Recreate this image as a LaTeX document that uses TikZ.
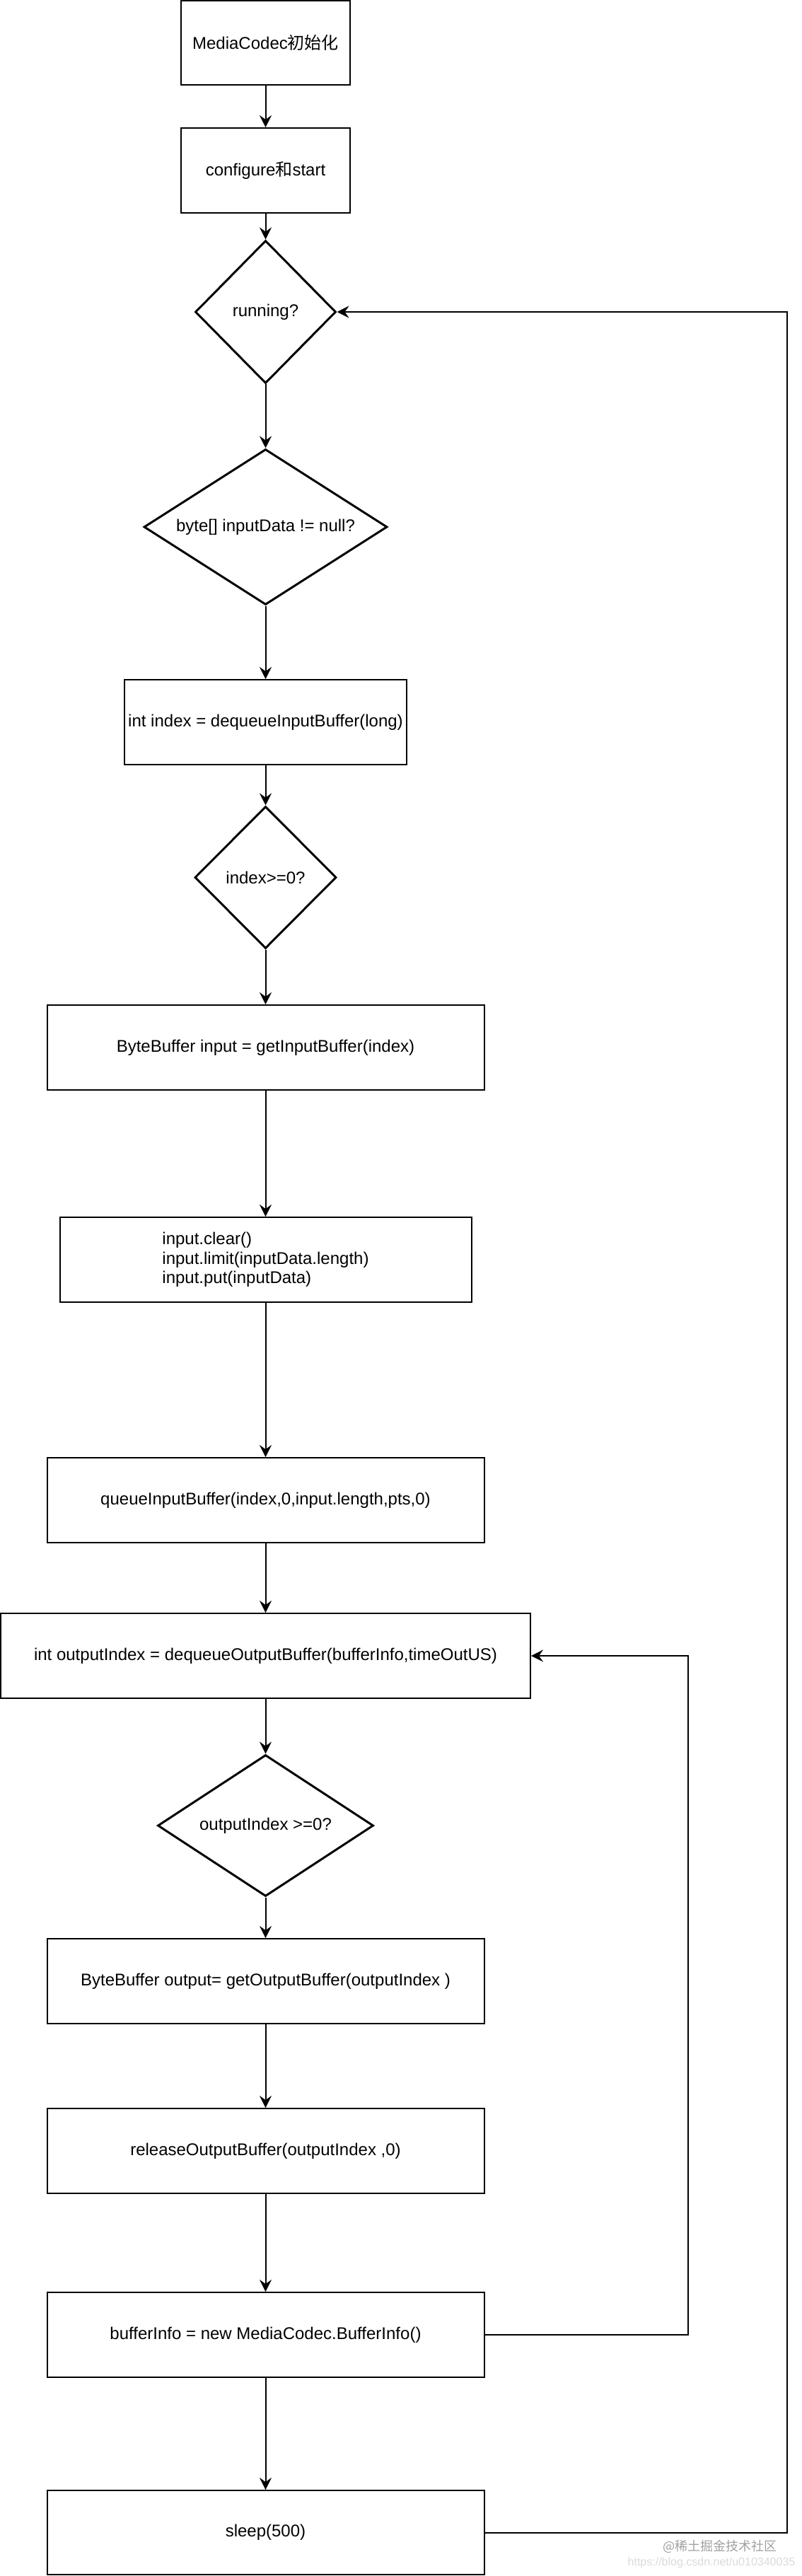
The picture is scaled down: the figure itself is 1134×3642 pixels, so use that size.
\documentclass[tikz,border=0pt]{standalone}
\usepackage{fontspec}
\setmainfont{Liberation Sans}
\newfontfamily\cjk{Noto Sans CJK SC}
\usetikzlibrary{shapes.geometric,arrows.meta}
\definecolor{wmgray}{HTML}{A0A0A0}
\definecolor{wmlight}{HTML}{DADADA}
\tikzset{
  txt/.style={font=\fontsize{24}{27.5}\selectfont},
  box/.style={draw, line width=2pt, rectangle, inner sep=0pt, minimum height=120pt, txt},
  dia/.style={draw, line width=3pt, diamond, inner sep=0pt},
  lbl/.style={txt, inner sep=0pt},
  conn/.style={line width=2pt, -{Stealth[length=17pt,width=17pt,inset=6pt]}},
  wm/.style={inner sep=0pt}
}
\begin{document}
\begin{tikzpicture}[x=1pt,y=-1pt]
\useasboundingbox (0,0) rectangle (1134,3642);
\node[box, minimum width=239pt, minimum height=119pt] (n1) at (375.5,60.5) {MediaCodec{\cjk 初始化}};
\node[box, minimum width=239pt] (n2) at (375.5,241) {configure{\cjk 和}start};
\node[dia, minimum width=199pt, minimum height=202pt, label={[lbl]center:running?}] (d1) at (375.5,441) {};
\node[dia, minimum width=344pt, minimum height=220pt, label={[lbl]center:byte[] inputData != null?}] (d2) at (375.5,745) {};
\node[box, minimum width=399pt] (n3) at (375.5,1021) {int index = dequeueInputBuffer(long)};
\node[dia, minimum width=200pt, minimum height=201pt, label={[lbl]center:index>=0?}] (d3) at (375.5,1240.5) {};
\node[box, minimum width=618pt] (n4) at (375.5,1481) {ByteBuffer input = getInputBuffer(index)};
\node[box, minimum width=582pt, align=left] (n5) at (375.5,1781) {input.clear()\\input.limit(inputData.length)\\input.put(inputData)};
\node[box, minimum width=618pt] (n6) at (375.5,2121) {queueInputBuffer(index,0,input.length,pts,0)};
\node[box, minimum width=749pt] (n7) at (375.5,2341) {int outputIndex = dequeueOutputBuffer(bufferInfo,timeOutUS)};
\node[dia, minimum width=305pt, minimum height=200pt, label={[lbl]center:outputIndex >=0?}] (d4) at (375.5,2581) {};
\node[box, minimum width=618pt] (n8) at (375.5,2801) {ByteBuffer output= getOutputBuffer(outputIndex )};
\node[box, minimum width=618pt] (n9) at (375.5,3041) {releaseOutputBuffer(outputIndex ,0)};
\node[box, minimum width=618pt] (n10) at (375.5,3301) {bufferInfo = new MediaCodec.BufferInfo()};
\node[box, minimum width=618pt, minimum height=119pt] (n11) at (375.5,3580.5) {sleep(500)};
\coordinate (inner) at (973,2800);
\coordinate (outer) at (1113,2000);
\draw[conn] (n1) -- (n2);
\draw[conn] (n2) -- (d1);
\draw[conn] (d1) -- (d2);
\draw[conn] (d2) -- (n3);
\draw[conn] (n3) -- (d3);
\draw[conn] (d3) -- (n4);
\draw[conn] (n4) -- (n5);
\draw[conn] (n5) -- (n6);
\draw[conn] (n6) -- (n7);
\draw[conn] (n7) -- (d4);
\draw[conn] (d4) -- (n8);
\draw[conn] (n8) -- (n9);
\draw[conn] (n9) -- (n10);
\draw[conn] (n10) -- (n11);
\draw[conn] (n10.east) -| (inner) |- (n7.east);
\draw[conn] (n11.east) -| (outer) |- (d1.east);
\node[wm, text=wmgray, font=\cjk\fontsize{18}{20}\selectfont] (w1) at (1018,3600) {@稀土掘金技术社区};
\node[wm, text=wmlight, font=\fontsize{16}{18}\selectfont] (w2) at (1006,3623) {https://blog.csdn.net/u010340035};
\end{tikzpicture}
\end{document}
